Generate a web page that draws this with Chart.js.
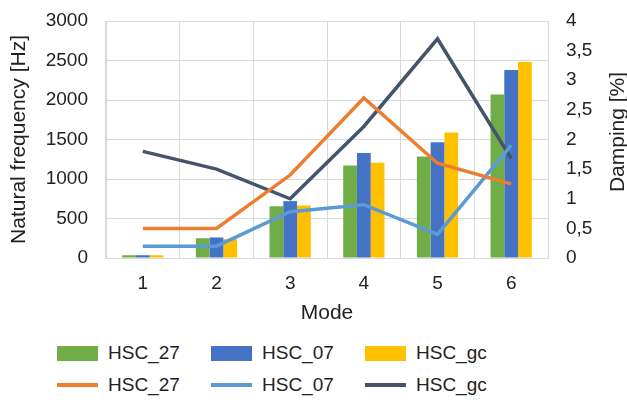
<!DOCTYPE html>
<html>
<head>
<meta charset="utf-8">
<script src="https://cdn.jsdelivr.net/npm/chart.js@4"></script>
<style>
  html, body { margin: 0; padding: 0; background: #fff; }
  #wrap { position: relative; width: 627px; height: 400px; overflow: hidden; }
  #chart { position: absolute; left: 0; top: 0; }
  #legend {
    position: absolute; left: 57px; top: 337px;
    display: grid; grid-template-columns: 154px 154px 154px; grid-auto-rows: 32px;
    font: 19px "Liberation Sans", Arial, sans-serif; color: #222;
  }
  .item { display: flex; align-items: center; white-space: nowrap; }
  .swatch { width: 41px; margin-right: 10px; }
</style>
</head>
<body>
<div id="wrap">
  <canvas id="chart" width="627" height="330"></canvas>
  <div id="legend"></div>
</div>
<script>
// ── Données ──────────────────────────────────────────────────────────────
const modes    = ['1', '2', '3', '4', '5', '6'];
const freq27   = [35, 250, 655, 1170, 1285, 2070];
const freq07   = [35, 260, 720, 1330, 1465, 2380];
const freqGc   = [35, 240, 665, 1205, 1590, 2480];
const damp27   = [0.5, 0.5, 1.4, 2.7, 1.6, 1.25];
const damp07   = [0.2, 0.2, 0.78, 0.9, 0.4, 1.9];
const dampGc   = [1.8, 1.5, 1.0, 2.22, 3.7, 1.68];

const FONT  = '"Liberation Sans", Arial, sans-serif';
const TEXT  = '#222';
const GRID  = '#d9d9d9';

const bar = (label, data, color) => ({
  type: 'bar', label, data, backgroundColor: color, yAxisID: 'y', order: 2,
  categoryPercentage: 0.56, barPercentage: 1,
});
const line = (label, data, color) => ({
  type: 'line', label, data, borderColor: color, backgroundColor: color, yAxisID: 'y1', order: 1,
  borderWidth: 3.5, pointRadius: 0, tension: 0, fill: false,
});

// largeur fixe de l'axe, sans la marge ajoutée pour les étiquettes extrêmes
const fixWidth = w => s => { s.width = w; s.paddingTop = 0; s.paddingBottom = 0; };

// titre de droite lu de bas en haut (Chart.js le tourne dans l'autre sens)
const rightTitle = {
  id: 'rightTitle',
  afterDraw(chart) {
    const c = chart.ctx;
    c.save();
    c.translate(618, 132);
    c.rotate(-Math.PI / 2);
    c.font = `21px ${FONT}`;
    c.fillStyle = TEXT;
    c.textAlign = 'center';
    c.textBaseline = 'middle';
    c.fillText('Damping [%]', 0, 0);
    c.restore();
  },
};

const chart = new Chart(document.getElementById('chart'), {
  data: {
    labels: modes,
    datasets: [
      bar('HSC_27', freq27, '#70AD47'),
      bar('HSC_07', freq07, '#4472C4'),
      bar('HSC_gc', freqGc, '#FFC000'),
      line('HSC_27', damp27, '#ED7D31'),
      line('HSC_07', damp07, '#5B9BD5'),
      line('HSC_gc', dampGc, '#44546A'),
    ],
  },
  options: {
    responsive: false, animation: false, devicePixelRatio: 1,
    layout: { padding: { top: 21 } },
    plugins: { legend: { display: false }, tooltip: { enabled: false } },
    scales: {
      x: {
        offset: true,
        grid: { color: GRID, offset: true, drawTicks: false },
        border: { color: GRID },
        ticks: { color: TEXT, font: { family: FONT, size: 19 }, padding: 14 },
        title: { display: true, text: 'Mode', color: TEXT, font: { family: FONT, size: 21 }, padding: { top: 0, bottom: 4 } },
        afterFit: s => { s.height = 72; },
      },
      y: {
        position: 'left', min: 0, max: 3000,
        grid: { color: GRID, drawTicks: false },
        border: { color: GRID },
        ticks: { stepSize: 500, color: TEXT, font: { family: FONT, size: 19 }, padding: 18, callback: v => String(v) },
        title: { display: true, text: 'Natural frequency [Hz]', color: TEXT, font: { family: FONT, size: 21 }, padding: { top: 7, bottom: 0 } },
        afterFit: fixWidth(106),
      },
      y1: {
        position: 'right', min: 0, max: 4,
        grid: { drawOnChartArea: false, drawTicks: false },
        border: { color: GRID },
        ticks: {
          stepSize: 0.5, color: TEXT, font: { family: FONT, size: 19 }, padding: 18,
          callback: v => String(v).replace('.', ','),
        },
        afterFit: fixWidth(79),
      },
    },
  },
  plugins: [rightTitle],
});

// ── Légende HTML (3 colonnes, barres puis courbes) ───────────────────────
document.getElementById('legend').innerHTML = chart.data.datasets.map(ds => {
  const h = ds.type === 'bar' ? 15 : 4;
  const col = ds.type === 'bar' ? ds.backgroundColor : ds.borderColor;
  return `<div class="item"><span class="swatch" style="height:${h}px;background:${col}"></span>${ds.label}</div>`;
}).join('');
</script>
</body>
</html>
